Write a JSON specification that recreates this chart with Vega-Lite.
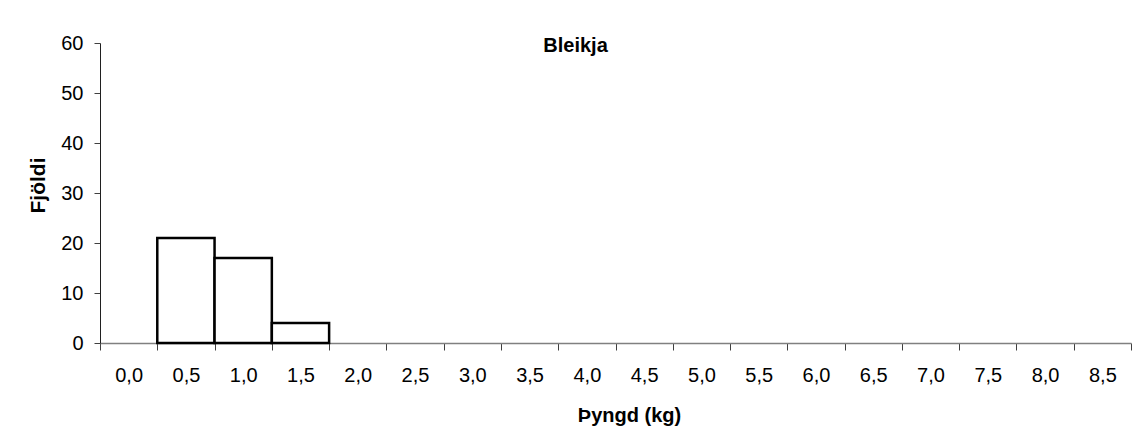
{
  "$schema": "https://vega.github.io/schema/vega-lite/v6.json",
  "autosize": "none",
  "width": 1031,
  "height": 300,
  "padding": {"left": 100, "top": 43, "right": 5, "bottom": 99},
  "background": "white",
  "title": {
    "text": "Bleikja",
    "font": "Liberation Sans",
    "fontSize": 20,
    "fontWeight": "bold",
    "color": "black",
    "offset": -23,
    "dx": -40
  },
  "data": {
    "values": [
      {"v": "0,0", "n": 0},
      {"v": "0,5", "n": 21},
      {"v": "1,0", "n": 17},
      {"v": "1,5", "n": 4},
      {"v": "2,0", "n": 0},
      {"v": "2,5", "n": 0},
      {"v": "3,0", "n": 0},
      {"v": "3,5", "n": 0},
      {"v": "4,0", "n": 0},
      {"v": "4,5", "n": 0},
      {"v": "5,0", "n": 0},
      {"v": "5,5", "n": 0},
      {"v": "6,0", "n": 0},
      {"v": "6,5", "n": 0},
      {"v": "7,0", "n": 0},
      {"v": "7,5", "n": 0},
      {"v": "8,0", "n": 0},
      {"v": "8,5", "n": 0}
    ]
  },
  "mark": {"type": "bar", "fill": "white", "stroke": "black", "strokeWidth": 2.5},
  "encoding": {
    "x": {
      "field": "v",
      "type": "nominal",
      "sort": null,
      "scale": {"paddingInner": 0, "paddingOuter": 0},
      "axis": {
        "title": "Þyngd (kg)",
        "titleFont": "Liberation Sans",
        "titleFontSize": 20,
        "titleFontWeight": "bold",
        "titleColor": "black",
        "titleX": 529,
        "titleY": 62,
        "titleBaseline": "top",
        "labelFont": "Liberation Sans",
        "labelFontSize": 20,
        "labelColor": "black",
        "labelAngle": 0,
        "labelPadding": 15,
        "tickBand": "extent",
        "tickSize": 7,
        "tickColor": "#404040",
        "domainColor": "#808080",
        "domainWidth": 1.5,
        "grid": false
      }
    },
    "y": {
      "field": "n",
      "type": "quantitative",
      "scale": {"domain": [0, 60]},
      "axis": {
        "title": "Fjöldi",
        "titleFont": "Liberation Sans",
        "titleFontSize": 21,
        "titleFontWeight": "bold",
        "titleColor": "black",
        "titlePadding": 12,
        "titleY": 142,
        "labelFont": "Liberation Sans",
        "labelFontSize": 20,
        "labelColor": "black",
        "labelPadding": 11,
        "values": [0, 10, 20, 30, 40, 50, 60],
        "tickSize": 6,
        "tickColor": "#404040",
        "domainColor": "#202020",
        "grid": false
      }
    },
    "strokeOpacity": {"condition": {"test": "datum.n > 0", "value": 1}, "value": 0}
  },
  "config": {"view": {"stroke": null}}
}
